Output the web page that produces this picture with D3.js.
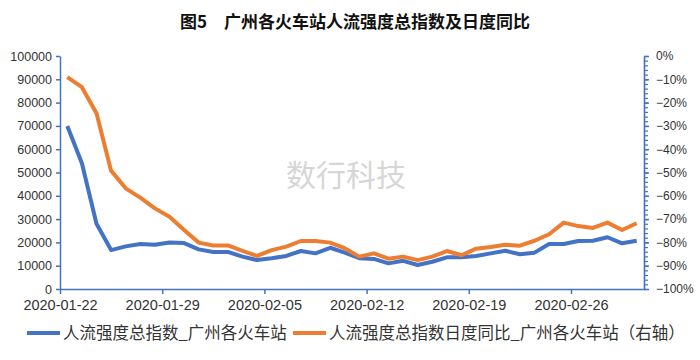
<!DOCTYPE html>
<html>
<head>
<meta charset="utf-8">
<script src="https://cdn.jsdelivr.net/npm/d3@7"></script>
<style>
  html, body { margin: 0; padding: 0; background: #fff; }
  svg { display: block; }
</style>
</head>
<body>
<svg id="chart" width="700" height="360"></svg>
<script>
// ---- data ----
const startDate = "2020-01-22";
const endDate = "2020-03-02"; // axis end (exclusive of last band)
const xTickLabels = ["2020-01-22", "2020-01-29", "2020-02-05", "2020-02-12", "2020-02-19", "2020-02-26"];
const leftTicks = [0, 10000, 20000, 30000, 40000, 50000, 60000, 70000, 80000, 90000, 100000];
const rightTicks = [0, -10, -20, -30, -40, -50, -60, -70, -80, -90, -100];
const indexValues = [70000, 54000, 28000, 16700, 18300, 19300, 19000, 20000, 19700, 17000,
  15900, 15900, 13900, 12400, 13200, 14200, 16300, 15300, 17700, 15600,
  13200, 12900, 11000, 12100, 10300, 11700, 13600, 13600, 14200, 15300,
  16400, 14900, 15600, 19300, 19300, 20600, 20700, 22200, 19600, 20700];
const yoyValues = [-9.1, -13.4, -24.6, -49.2, -56.8, -60.8, -65.4, -69.0, -74.7, -80.1,
  -81.3, -81.3, -83.6, -85.8, -83.3, -81.8, -79.4, -79.4, -80.1, -82.5,
  -86.1, -84.7, -87.0, -86.1, -87.6, -86.1, -83.7, -85.5, -82.7, -82.0,
  -81.0, -81.4, -79.3, -76.5, -71.5, -73.0, -73.8, -71.5, -74.7, -71.8];
const seriesNames = ["人流强度总指数_广州各火车站", "人流强度总指数日度同比_广州各火车站（右轴）"];
const titleText = "图5　广州各火车站人流强度总指数及日度同比";
const watermark = "数行科技";

// ---- layout ----
const svg = d3.select("#chart");
const L = 60, R = 644, T = 56, B = 289;
const blue = "#4472C4", orange = "#ED7D31", axisColor = "#4472C4";
const numFont = "'Liberation Sans', Arial, sans-serif";
const cjkFont = "'Noto Sans CJK SC', sans-serif";

const parse = d3.utcParse("%Y-%m-%d");
const d0 = parse(startDate), d1 = parse(endDate);
const dates = d3.utcDay.range(d0, d3.utcDay.offset(d0, indexValues.length));

const x = d3.scaleUtc().domain([d0, d1]).range([L, R]);
const xc = d => x(d3.utcHour.offset(d, 12));
const yL = d3.scaleLinear().domain([0, 100000]).range([B, T]);
const yR = d3.scaleLinear().domain([-100, 0]).range([B, T]);

// title
svg.append("text")
  .attr("x", 355).attr("y", 28)
  .attr("text-anchor", "middle")
  .attr("font-family", cjkFont)
  .attr("font-weight", "bold")
  .attr("font-size", 17)
  .attr("fill", "#111")
  .text(titleText);

// watermark
svg.append("text")
  .attr("x", 346).attr("y", 186)
  .attr("text-anchor", "middle")
  .attr("font-family", cjkFont)
  .attr("font-size", 30)
  .attr("fill", "#d6d6d6")
  .text(watermark);

// left axis
const gL = svg.append("g").attr("transform", `translate(${L},0)`)
  .call(d3.axisLeft(yL).tickValues(leftTicks).tickSize(4).tickSizeOuter(0).tickPadding(4).tickFormat(d3.format("d")));
gL.selectAll("path, line").attr("stroke", axisColor).attr("stroke-width", 1.5);
gL.selectAll("text").attr("font-family", numFont).attr("font-size", 12.5).attr("fill", "#333");

// right axis - minor ticks
const gRm = svg.append("g").attr("transform", `translate(${R},0)`)
  .call(d3.axisRight(yR).ticks(50).tickValues(d3.range(-100, 0.1, 2)).tickSize(4).tickSizeOuter(0).tickFormat(""));
gRm.selectAll("path, line").attr("stroke", axisColor).attr("stroke-width", 1.2);
const gR = svg.append("g").attr("transform", `translate(${R},0)`)
  .call(d3.axisRight(yR).tickValues(rightTicks).tickSize(5).tickSizeOuter(0).tickPadding(7)
    .tickFormat(d => (d < 0 ? "−" : "") + Math.abs(d) + "%"));
gR.selectAll("path, line").attr("stroke", axisColor).attr("stroke-width", 1.5);
gR.selectAll("text").attr("font-family", numFont).attr("font-size", 12).attr("fill", "#333");

// x axis
const tickDates = xTickLabels.map(parse);
const gX = svg.append("g").attr("transform", `translate(0,${B})`)
  .call(d3.axisBottom(x).tickValues(tickDates).tickSize(5).tickSizeOuter(0).tickPadding(6)
    .tickFormat(d3.utcFormat("%Y-%m-%d")));
gX.selectAll("path, line").attr("stroke", axisColor).attr("stroke-width", 1.5);
gX.selectAll("text").attr("font-family", numFont).attr("font-size", 14.5).attr("fill", "#333");

// lines
const lineL = d3.line().x((d, i) => xc(dates[i])).y(d => yL(d));
const lineR = d3.line().x((d, i) => xc(dates[i])).y(d => yR(d));
svg.append("path").datum(indexValues).attr("d", lineL)
  .attr("fill", "none").attr("stroke", blue).attr("stroke-width", 4).attr("stroke-linejoin", "round");
svg.append("path").datum(yoyValues).attr("d", lineR)
  .attr("fill", "none").attr("stroke", orange).attr("stroke-width", 4).attr("stroke-linejoin", "round");

// legend
const legend = [
  { name: seriesNames[0], color: blue, x: 27 },
  { name: seriesNames[1], color: orange, x: 293 }
];
legend.forEach(l => {
  svg.append("line").attr("x1", l.x).attr("x2", l.x + 33).attr("y1", 333).attr("y2", 333)
    .attr("stroke", l.color).attr("stroke-width", 4);
  svg.append("text").attr("x", l.x + 36).attr("y", 339)
    .attr("font-family", cjkFont).attr("font-size", 16.5).attr("fill", "#333")
    .text(l.name);
});
</script>
</body>
</html>
